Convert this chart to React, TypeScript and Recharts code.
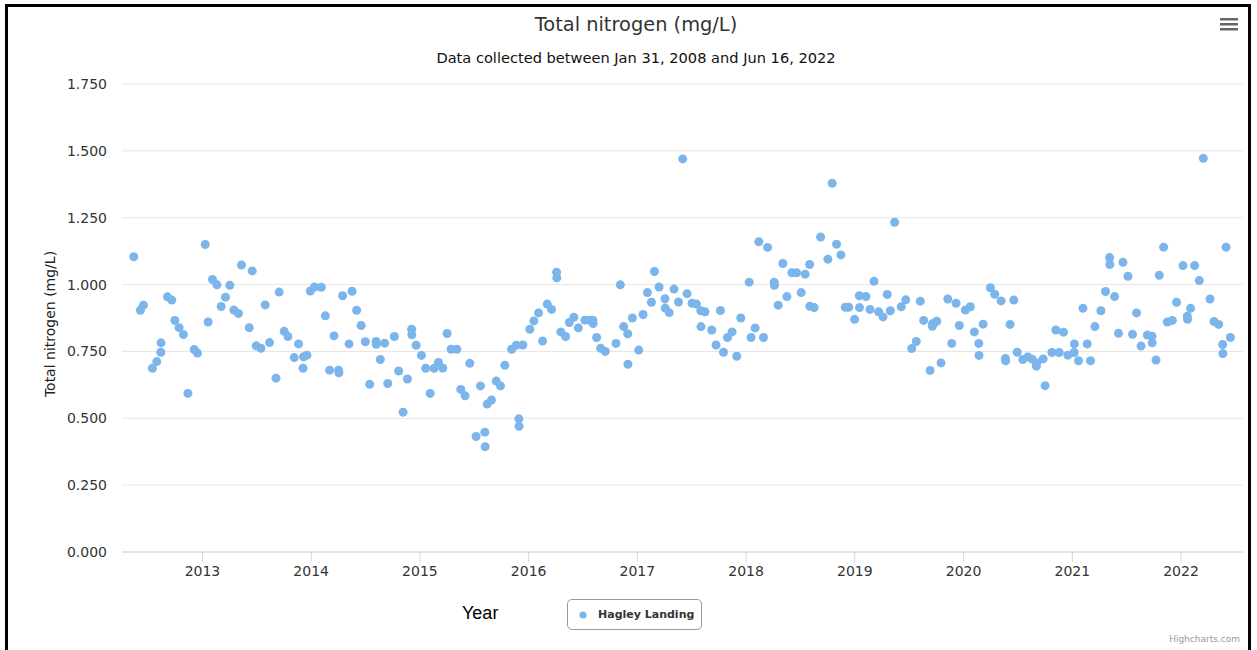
import React from 'react';
import { ScatterChart, Scatter, XAxis, YAxis, CartesianGrid, Legend } from 'recharts';

// [decimal year, total nitrogen mg/L]
const samples2012: [number, number][] = [
  [2012.368, 1.104], [2012.429, 0.904], [2012.457, 0.923], [2012.54, 0.687], [2012.58, 0.712],
  [2012.617, 0.747], [2012.619, 0.782], [2012.678, 0.954], [2012.718, 0.942], [2012.746, 0.866],
  [2012.785, 0.839], [2012.825, 0.813], [2012.866, 0.593], [2012.924, 0.757], [2012.954, 0.744],
];
const samples2013: [number, number][] = [
  [2013.025, 1.15], [2013.052, 0.86], [2013.092, 1.019], [2013.133, 0.999], [2013.172, 0.918],
  [2013.212, 0.953], [2013.252, 0.997], [2013.289, 0.905], [2013.331, 0.892], [2013.359, 1.073],
  [2013.43, 0.839], [2013.458, 1.051], [2013.494, 0.771], [2013.538, 0.762], [2013.577, 0.924],
  [2013.617, 0.783], [2013.676, 0.65], [2013.706, 0.972], [2013.752, 0.825], [2013.786, 0.806],
  [2013.844, 0.727], [2013.884, 0.778], [2013.925, 0.687], [2013.93, 0.73], [2013.961, 0.736],
  [2013.992, 0.976],
];
const samples2014: [number, number][] = [
  [2014.031, 0.991], [2014.093, 0.99], [2014.13, 0.883], [2014.169, 0.68], [2014.21, 0.808],
  [2014.252, 0.68], [2014.255, 0.67], [2014.289, 0.958], [2014.348, 0.778], [2014.376, 0.975],
  [2014.418, 0.904], [2014.459, 0.847], [2014.498, 0.786], [2014.538, 0.627], [2014.597, 0.787],
  [2014.599, 0.777], [2014.636, 0.72], [2014.676, 0.781], [2014.704, 0.63], [2014.765, 0.806],
  [2014.805, 0.677], [2014.845, 0.523], [2014.885, 0.647], [2014.924, 0.833], [2014.926, 0.812],
  [2014.965, 0.773],
];
const samples2015: [number, number][] = [
  [2015.014, 0.735], [2015.053, 0.687], [2015.094, 0.593], [2015.131, 0.687], [2015.17, 0.709],
  [2015.21, 0.688], [2015.25, 0.817], [2015.287, 0.758], [2015.339, 0.758], [2015.376, 0.608],
  [2015.416, 0.584], [2015.459, 0.706], [2015.517, 0.432], [2015.557, 0.621], [2015.597, 0.448],
  [2015.6, 0.394], [2015.619, 0.553], [2015.658, 0.568], [2015.702, 0.639], [2015.741, 0.621],
  [2015.781, 0.698], [2015.843, 0.758], [2015.886, 0.773], [2015.91, 0.498], [2015.912, 0.47],
  [2015.947, 0.774],
];
const samples2016: [number, number][] = [
  [2016.011, 0.833], [2016.048, 0.864], [2016.091, 0.894], [2016.128, 0.789], [2016.171, 0.927],
  [2016.211, 0.907], [2016.257, 1.046], [2016.259, 1.025], [2016.296, 0.823], [2016.34, 0.806],
  [2016.374, 0.858], [2016.416, 0.878], [2016.457, 0.838], [2016.517, 0.867], [2016.561, 0.867],
  [2016.591, 0.867], [2016.593, 0.854], [2016.625, 0.802], [2016.662, 0.762], [2016.705, 0.75],
  [2016.803, 0.78], [2016.843, 0.999], [2016.874, 0.843], [2016.911, 0.816], [2016.913, 0.702],
  [2016.954, 0.875],
];
const samples2017: [number, number][] = [
  [2017.012, 0.755], [2017.052, 0.888], [2017.092, 0.97], [2017.129, 0.934], [2017.157, 1.049],
  [2017.199, 0.991], [2017.254, 0.947], [2017.256, 0.912], [2017.293, 0.895], [2017.337, 0.983],
  [2017.378, 0.935], [2017.417, 1.47], [2017.457, 0.966], [2017.503, 0.93], [2017.543, 0.927],
  [2017.583, 0.902], [2017.585, 0.843], [2017.622, 0.898], [2017.684, 0.83], [2017.724, 0.774],
  [2017.764, 0.903], [2017.792, 0.747], [2017.829, 0.802], [2017.871, 0.823], [2017.914, 0.732],
  [2017.951, 0.875],
];
const samples2018: [number, number][] = [
  [2018.028, 1.009], [2018.046, 0.802], [2018.083, 0.838], [2018.117, 1.16], [2018.16, 0.802],
  [2018.197, 1.139], [2018.258, 1.009], [2018.26, 0.997], [2018.295, 0.923], [2018.338, 1.079],
  [2018.375, 0.955], [2018.421, 1.044], [2018.464, 1.044], [2018.507, 0.97], [2018.543, 1.039],
  [2018.584, 1.075], [2018.586, 0.919], [2018.626, 0.914], [2018.685, 1.178], [2018.752, 1.095],
  [2018.792, 1.379], [2018.832, 1.151], [2018.872, 1.111], [2018.912, 0.915], [2018.943, 0.915],
  [2018.998, 0.87],
];
const samples2019: [number, number][] = [
  [2019.041, 0.958], [2019.043, 0.914], [2019.102, 0.955], [2019.139, 0.907], [2019.176, 1.012],
  [2019.219, 0.898], [2019.259, 0.879], [2019.298, 0.963], [2019.326, 0.902], [2019.366, 1.233],
  [2019.427, 0.917], [2019.468, 0.943], [2019.523, 0.761], [2019.565, 0.787], [2019.602, 0.938],
  [2019.633, 0.866], [2019.692, 0.679], [2019.713, 0.844], [2019.715, 0.854], [2019.753, 0.863],
  [2019.793, 0.707], [2019.855, 0.946], [2019.891, 0.78], [2019.931, 0.93], [2019.961, 0.847],
];
const samples2020: [number, number][] = [
  [2020.017, 0.905], [2020.062, 0.917], [2020.099, 0.823], [2020.14, 0.78], [2020.142, 0.735],
  [2020.18, 0.852], [2020.247, 0.988], [2020.287, 0.964], [2020.345, 0.939], [2020.385, 0.724],
  [2020.387, 0.715], [2020.428, 0.851], [2020.462, 0.942], [2020.493, 0.747], [2020.545, 0.72],
  [2020.591, 0.729], [2020.631, 0.721], [2020.67, 0.695], [2020.672, 0.707], [2020.732, 0.722],
  [2020.75, 0.622], [2020.812, 0.746], [2020.849, 0.83], [2020.879, 0.746], [2020.919, 0.822],
  [2020.959, 0.736],
];
const samples2021: [number, number][] = [
  [2021.017, 0.746], [2021.019, 0.778], [2021.057, 0.715], [2021.098, 0.911], [2021.137, 0.778],
  [2021.168, 0.715], [2021.208, 0.843], [2021.263, 0.902], [2021.306, 0.974], [2021.343, 1.101],
  [2021.345, 1.075], [2021.389, 0.955], [2021.425, 0.818], [2021.466, 1.083], [2021.512, 1.031],
  [2021.554, 0.814], [2021.591, 0.894], [2021.632, 0.77], [2021.69, 0.811], [2021.733, 0.807],
  [2021.735, 0.782], [2021.77, 0.718], [2021.8, 1.035], [2021.84, 1.14], [2021.874, 0.86],
  [2021.92, 0.866], [2021.959, 0.934],
];
const samples2022: [number, number][] = [
  [2022.018, 1.071], [2022.058, 0.882], [2022.06, 0.87], [2022.088, 0.911], [2022.125, 1.071],
  [2022.168, 1.015], [2022.205, 1.472], [2022.267, 0.946], [2022.304, 0.862], [2022.346, 0.851],
  [2022.383, 0.776], [2022.385, 0.742], [2022.414, 1.14], [2022.454, 0.802],
];

const yearTicks = [2013, 2014, 2015, 2016, 2017, 2018, 2019, 2020, 2021, 2022];
const valueTicks = [0, 0.25, 0.5, 0.75, 1.0, 1.25, 1.5, 1.75];
const xDomain: [number, number] = [2012.26, 2022.57];
const yDomain: [number, number] = [0, 1.75];

const seriesName = 'Hagley Landing';
const chartTitle = 'Total nitrogen (mg/L)';
const chartSubtitle = 'Data collected between Jan 31, 2008 and Jun 16, 2022';
const yAxisTitle = 'Total nitrogen (mg/L)';
const xAxisTitle = 'Year';

const data = [
  ...samples2012, ...samples2013, ...samples2014, ...samples2015, ...samples2016,
  ...samples2017, ...samples2018, ...samples2019, ...samples2020, ...samples2021, ...samples2022,
].map(([year, value]) => ({ year, value }));

const COLOR = '#7cb5ec';
const FONT = '"DejaVu Sans", Verdana, sans-serif';

const Dot = (props: any) => {
  const { cx, cy } = props;
  if (cx == null || cy == null) return null;
  return <circle cx={cx} cy={cy} r={4.5} fill={COLOR} />;
};

const LegendBox = () => (
  <div
    style={{
      width: 135,
      height: 31,
      boxSizing: 'border-box',
      border: '1px solid #999',
      borderRadius: 5,
      display: 'flex',
      alignItems: 'center',
      background: '#fff',
    }}
  >
    <svg width={30} height={29} style={{ flex: 'none' }}>
      <circle cx={15} cy={15} r={3.6} fill={COLOR} />
    </svg>
    <span style={{ fontFamily: FONT, fontWeight: 'bold', fontSize: 11, color: '#333', whiteSpace: 'nowrap' }}>
      {seriesName}
    </span>
  </div>
);

export default function App() {
  return (
    <div style={{ position: 'absolute', left: 0, top: 0, width: 1257, height: 650, background: '#fff', overflow: 'hidden' }}>
      <div
        style={{
          position: 'absolute',
          left: 5,
          top: 4,
          width: 1246,
          height: 700,
          boxSizing: 'border-box',
          border: '3px solid #000',
        }}
      />
      <div style={{ position: 'absolute', left: 0, top: 0 }}>
        <ScatterChart width={1257} height={650} margin={{ top: 84, right: 14, bottom: 68, left: 62 }}>
          <CartesianGrid vertical={false} stroke="#e6e6e6" />
          <XAxis
            type="number"
            dataKey="year"
            domain={xDomain}
            ticks={yearTicks}
            allowDataOverflow
            height={30}
            stroke="#ccd6eb"
            tickSize={10}
            tickMargin={4}
            tick={{ fontFamily: FONT, fontSize: 14, fill: '#333' }}
            tickFormatter={(v: number) => String(v)}
          />
          <YAxis
            type="number"
            dataKey="value"
            domain={yDomain}
            ticks={valueTicks}
            allowDataOverflow
            width={60}
            axisLine={false}
            tickLine={false}
            tickSize={6}
            tickMargin={9}
            tick={{ fontFamily: FONT, fontSize: 14, fill: '#333' }}
            tickFormatter={(v: number) => v.toFixed(3)}
          />
          <Legend
            layout="horizontal"
            verticalAlign="middle"
            align="center"
            content={() => <LegendBox />}
            wrapperStyle={{ position: 'absolute', left: 567, top: 599, width: 136, height: 32 }}
          />
          <Scatter name={seriesName} data={data} fill={COLOR} shape={Dot} isAnimationActive={false} />
        </ScatterChart>
      </div>
      <div
        style={{
          position: 'absolute', left: 0, top: 14, width: 1272, textAlign: 'center',
          fontFamily: FONT, fontSize: 19.4, lineHeight: '22px', color: '#333',
        }}
      >
        {chartTitle}
      </div>
      <div
        style={{
          position: 'absolute', left: 0, top: 49, width: 1272, textAlign: 'center',
          fontFamily: FONT, fontSize: 14.6, lineHeight: '18px', color: '#111',
        }}
      >
        {chartSubtitle}
      </div>
      <div
        style={{
          position: 'absolute', left: 50 - 100, top: 324 - 8, width: 200, height: 16, textAlign: 'center',
          transform: 'rotate(-90deg)', fontFamily: FONT, fontSize: 14, lineHeight: '16px', color: '#222',
        }}
      >
        {yAxisTitle}
      </div>
      <div
        style={{
          position: 'absolute', left: 462, top: 602, fontFamily: '"Liberation Sans", Arial, sans-serif',
          fontSize: 18, lineHeight: '22px', color: '#000',
        }}
      >
        {xAxisTitle}
      </div>
      <svg style={{ position: 'absolute', left: 1218, top: 16 }} width={22} height={18}>
        <rect x={2} y={2} width={18} height={2.5} fill="#666" />
        <rect x={2} y={7} width={18} height={2.5} fill="#666" />
        <rect x={2} y={12} width={18} height={2.5} fill="#666" />
      </svg>
      <div
        style={{
          position: 'absolute', right: 17, top: 633, fontFamily: FONT, fontSize: 9,
          lineHeight: '12px', color: '#999',
        }}
      >
        Highcharts.com
      </div>
    </div>
  );
}
